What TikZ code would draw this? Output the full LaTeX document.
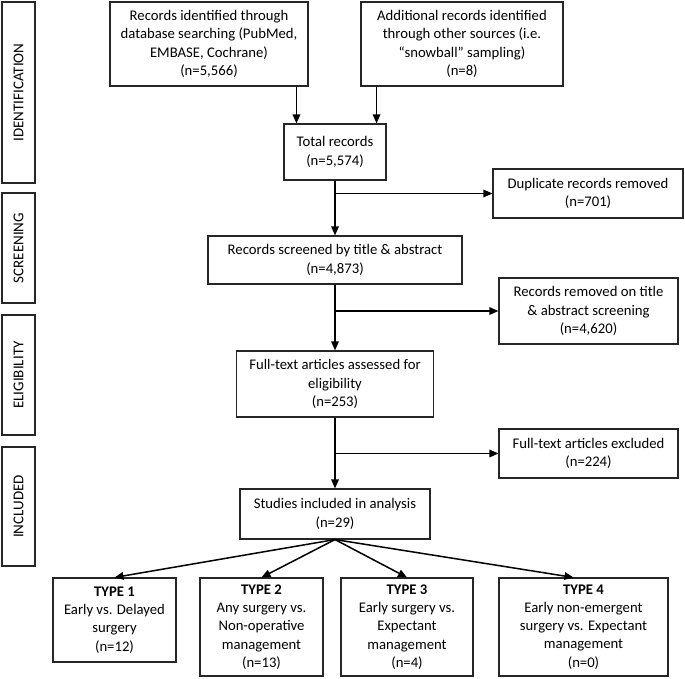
\documentclass[tikz,border=0pt]{standalone}
\usepackage{fontspec}
\setmainfont{Carlito}
\usetikzlibrary{arrows.meta}
\tikzset{
  box/.style={draw=black!85, line width=1.1pt, inner sep=0pt, align=center, font=\fontsize{14.7}{18.2}\selectfont},
  sidebox/.style={draw=black!85, line width=1.3pt, inner sep=0pt, minimum width=33pt},
  sidelabel/.style={rotate=90, font=\fontsize{15}{18}\selectfont},
  arr/.style={line width=1.5pt, -{Triangle[length=9pt,width=7.5pt]}}
}
\begin{document}
\begin{tikzpicture}[x=1pt,y=-1pt]
\useasboundingbox (0,0) rectangle (685,679);
% side labels
\node[sidebox, minimum height=181pt] (sid) at (18.5,92.5) {};
\node[sidelabel] (sidt) at (sid.center) {IDENTIFICATION};
\node[sidebox, minimum height=110pt] (sscr) at (18.5,248) {};
\node[sidelabel] (sscrt) at (sscr.center) {SCREENING};
\node[sidebox, minimum height=120pt] (selig) at (18.5,375) {};
\node[sidelabel] (seligt) at (selig.center) {ELIGIBILITY};
\node[sidebox, minimum height=119pt] (sincl) at (18.5,506.5) {};
\node[sidelabel] (sinclt) at (sincl.center) {INCLUDED};
% main boxes
\node[box, minimum width=198pt, minimum height=84pt] (A) at (209,44) {Records identified through\\database searching (PubMed,\\EMBASE, Cochrane)\\(n=5,566)};
\node[box, minimum width=202pt, minimum height=84pt] (B) at (462,44) {Additional records identified\\through other sources (i.e.\\“snowball” sampling)\\(n=8)};
\node[box, minimum width=102pt, minimum height=56pt] (total) at (335,152) {Total records\\(n=5,574)};
\node[box, minimum width=190pt, minimum height=49pt] (dup) at (588,193.5) {Duplicate records removed\\(n=701)};
\node[box, minimum width=254pt, minimum height=48pt] (scr) at (335,260) {Records screened by title \& abstract\\(n=4,873)};
\node[box, minimum width=179pt, minimum height=66pt] (rem) at (588.5,311) {Records removed on title\\\& abstract screening\\(n=4,620)};
\node[box, minimum width=197pt, minimum height=66pt] (full) at (335,384) {Full-text articles assessed for\\eligibility\\(n=253)};
\node[box, minimum width=179pt, minimum height=49pt] (exc) at (588.5,453.5) {Full-text articles excluded\\(n=224)};
\node[box, minimum width=190pt, minimum height=50pt] (stud) at (335,514) {Studies included in analysis\\(n=29)};
\node[box, minimum width=123pt, minimum height=84pt] (t1) at (114.5,620) {\textbf{TYPE 1}\\Early vs. Delayed\\surgery\\(n=12)};
\node[box, minimum width=123pt, minimum height=98pt] (t2) at (261.5,627) {\textbf{TYPE 2}\\Any surgery vs.\\Non-operative\\management\\(n=13)};
\node[box, minimum width=132pt, minimum height=98pt] (t3) at (407,627) {\textbf{TYPE 3}\\Early surgery vs.\\Expectant\\management\\(n=4)};
\node[box, minimum width=169pt, minimum height=98pt] (t4) at (583.5,627) {\textbf{TYPE 4}\\Early non-emergent\\surgery vs. Expectant\\management\\(n=0)};
% connectors
\coordinate (ta) at ([xshift=13pt]total.north west);
\coordinate (tb) at ([xshift=-10pt]total.north east);
\draw[arr] (A.south -| ta) -- (ta);
\draw[arr] (B.south -| tb) -- (tb);
\draw[arr] (total.south) -- (scr.north);
\draw[arr] (dup.west -| total.south) -- (dup.west);
\draw[arr] (scr.south) -- (full.north);
\draw[arr] (rem.west -| scr.south) -- (rem.west);
\draw[arr] (full.south) -- (stud.north);
\draw[arr] (exc.west -| full.south) -- (exc.west);
\draw[arr] (stud.south) -- (t1.north);
\draw[arr] (stud.south) -- (t2.north);
\draw[arr] (stud.south) -- (t3.north);
\draw[arr] (stud.south) -- ([xshift=-10pt]t4.north);
\end{tikzpicture}
\end{document}
